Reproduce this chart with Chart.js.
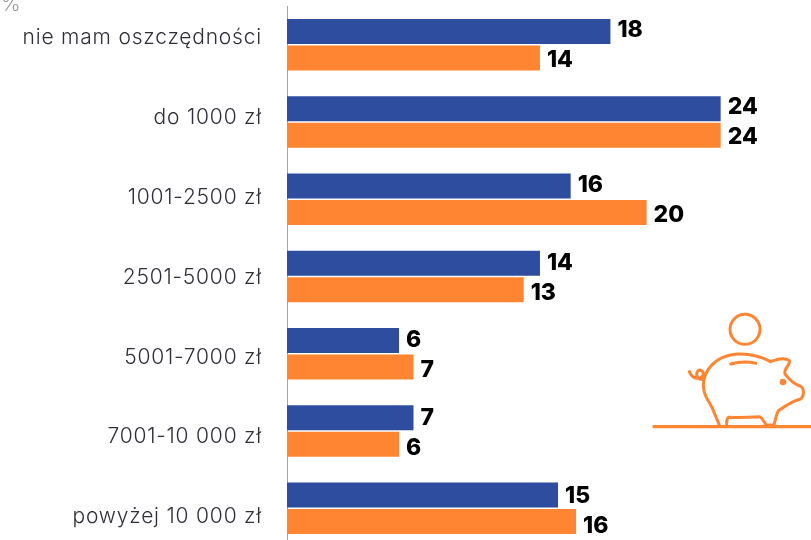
<!DOCTYPE html>
<html>
<head>
<meta charset="utf-8">
<style>
  html, body { margin: 0; padding: 0; background: #fff; overflow: hidden; width: 811px; height: 540px; }
  #wrap { position: relative; width: 811px; height: 540px; overflow: hidden; }
  #chart { position: absolute; left: 0; top: 0; }
  #unit { position: absolute; left: 1px; top: -9px; font: 300 21px Inter, sans-serif; color: #9a9a9a; }
  #pig { position: absolute; left: 640px; top: 300px; }
</style>
</head>
<body>
<div id="wrap">
  <canvas id="chart" width="811" height="547"></canvas>
  <div id="unit">%</div>
  <svg id="pig" width="171" height="140" viewBox="0 0 513 420" fill="none" stroke="#ff8533" stroke-width="9" stroke-linejoin="round" stroke-linecap="round">
    <circle cx="315" cy="88" r="45"/>
    <path d="M238 375 L215 320 C200 295 190 280 190 255 C192 210 225 168 290 162 C330 160 365 170 392 185 C410 178 435 172 448 182 C452 195 430 205 435 222 C445 235 455 250 480 258 C495 265 492 290 482 297 C465 300 440 315 415 332 C408 345 405 365 402 375 L378 375 C372 365 365 350 358 350 C330 352 295 353 265 352 C258 358 260 368 260 375"/>
    <path d="M272 192 C295 186 325 185 347 190"/>
    <path d="M190 238 C178 240 165 230 172 215 C180 205 195 215 188 228 C180 238 158 240 148 215"/>
    <circle cx="429" cy="246" r="10" fill="#ff8533" stroke="none"/>
    <path d="M38 380 H513" stroke-width="10" stroke-linecap="butt"/>
  </svg>
</div>
<script src="https://cdn.jsdelivr.net/npm/chart.js@4"></script>
<script>
const categories = ["nie mam oszczędności", "do 1000 zł", "1001-2500 zł", "2501-5000 zł", "5001-7000 zł", "7001-10 000 zł", "powyżej 10 000 zł"];
// bars carry the decimals, labels show them rounded
const blueValues = [17.9, 24, 15.7, 14, 6.2, 7, 15];
const orangeValues = [14, 24, 19.9, 13.1, 7, 6.2, 16];

const COL_BLUE = "#2e4d9e";
const COL_ORANGE = "#ff8533";
const LABEL_PITCH = 79.8; // side labels are spaced a bit wider than the bars

// value labels at the bar ends, wider tracking for the side labels
const valueLabels = {
  id: "valueLabels",
  beforeDraw(chart) {
    chart.ctx.letterSpacing = "0.8px";
  },
  afterDatasetsDraw(chart) {
    const ctx = chart.ctx;
    ctx.save();
    ctx.letterSpacing = "0px";
    ctx.font = "800 23px Inter, sans-serif";
    ctx.fillStyle = "#000";
    ctx.textAlign = "left";
    ctx.textBaseline = "middle";
    chart.data.datasets.forEach((ds, d) => {
      chart.getDatasetMeta(d).data.forEach((bar, i) => {
        const shift = (d === 0 ? -0.5 : 3) + (i - 3) * 0.4;
        ctx.fillText(Math.round(ds.data[i]), bar.x + 7, bar.y + shift);
      });
    });
    ctx.restore();
  }
};

new Chart(document.getElementById("chart"), {
  type: "bar",
  data: {
    labels: categories,
    datasets: [
      { data: blueValues, backgroundColor: COL_BLUE, categoryPercentage: 0.686, barPercentage: 0.943 },
      { data: orangeValues, backgroundColor: COL_ORANGE, categoryPercentage: 0.686, barPercentage: 0.943 }
    ]
  },
  options: {
    indexAxis: "y",
    responsive: false,
    animation: false,
    layout: { padding: { top: 6 } },
    plugins: { legend: { display: false }, tooltip: { enabled: false } },
    scales: {
      x: { display: false, min: 0, max: 29 },
      y: {
        afterFit(scale) {
          scale.width = 287;
          scale.paddingTop = 0;
          scale.paddingBottom = 0;
        },
        afterTickToLabelConversion(scale) {
          const base = scale.getPixelForTick.bind(scale);
          scale.getPixelForTick = i => base(3) + 1 + (i - 3) * LABEL_PITCH;
        },
        grid: { display: false, drawTicks: false },
        border: { display: true, color: "#a6a6a6", width: 1 },
        ticks: {
          autoSkip: false,
          padding: 25,
          color: "#2f2f3a",
          font: { family: "Inter, sans-serif", size: 21, weight: "300" }
        }
      }
    }
  },
  plugins: [valueLabels]
});
</script>
</body>
</html>
